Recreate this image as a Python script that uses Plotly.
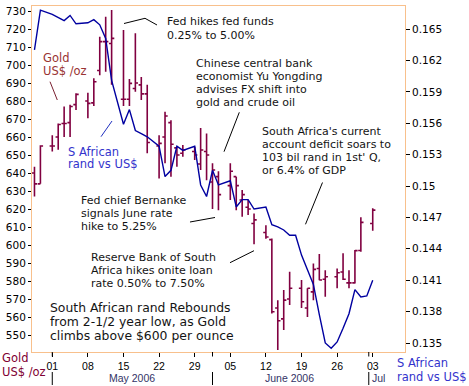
import plotly.graph_objects as go

# ---------------- data ----------------
gold_dates = ["2006-04-27", "2006-04-28", "2006-05-01", "2006-05-02", "2006-05-03", "2006-05-04",
              "2006-05-05", "2006-05-08", "2006-05-09", "2006-05-10", "2006-05-11", "2006-05-12",
              "2006-05-15", "2006-05-16", "2006-05-17", "2006-05-18", "2006-05-19", "2006-05-22",
              "2006-05-23", "2006-05-24", "2006-05-25", "2006-05-26", "2006-05-29", "2006-05-30",
              "2006-05-31", "2006-06-01", "2006-06-02", "2006-06-05", "2006-06-06", "2006-06-07",
              "2006-06-08", "2006-06-09", "2006-06-12", "2006-06-13", "2006-06-14", "2006-06-15",
              "2006-06-16", "2006-06-19", "2006-06-20", "2006-06-21", "2006-06-22", "2006-06-23",
              "2006-06-26", "2006-06-27", "2006-06-28", "2006-06-29", "2006-06-30", "2006-07-03"]
gold_open = [640, 634, 655, 660, 667.5, 668, 678, 680, 679, 697, 713, 712,
             681, 681, 687, 689, 684, 655, 660, 668, 654, 651, 652, 645,
             652, 635, 638, 633, 638, 625, 621, 612, 607, 603, 565, 559,
             570, 576, 565, 574, 587, 581, 582.4, 585, 579, 579, 597, 612]
gold_high = [643.5, 655.5, 661, 667.5, 677, 678, 684.4, 684.6, 692.6, 715.7, 726.8, 730.6,
             719.4, 692.2, 717.6, 693.3, 689, 661, 674, 669.4, 654.6, 655.6, 654.6, 665,
             662, 645.5, 641, 645.5, 638, 630.6, 625, 617.6, 611, 603.7, 569.4, 575,
             585.2, 580.6, 576, 589.8, 595, 586, 587, 595.4, 586, 597.2, 615.4, 620.4]
gold_low = [627, 634, 652, 653, 660, 660, 675, 670.4, 677.2, 694.4, 696.3, 689,
            677.2, 677.2, 685.2, 680.6, 651, 637, 645.4, 638, 643.5, 649, 647.2, 641.7,
            636, 620, 619.4, 625, 619.4, 615.7, 616.7, 600.5, 603.5, 562, 541.7, 552.8,
            566.7, 565, 560, 569.4, 580.4, 571.3, 576, 580.6, 576, 578.7, 596.3, 607.9]
gold_close = [634, 655, 655, 667, 667.5, 677, 683.7, 678.7, 690.7, 713, 713, 714.8,
              681, 689.8, 690, 684, 657, 656.5, 671.7, 656, 650, 652.8, 650, 652.8,
              650, 641.7, 628, 641, 633, 628, 620, 614, 604.5, 563, 558, 569.4,
              576, 568.5, 576, 586.5, 580.6, 582.4, 584.6, 581, 579, 596.9, 612.6, 619.4]

rand_dates = ["2006-04-27", "2006-04-28", "2006-05-01", "2006-05-02", "2006-05-03", "2006-05-04",
              "2006-05-05", "2006-05-08", "2006-05-09", "2006-05-10", "2006-05-11", "2006-05-12",
              "2006-05-15", "2006-05-16", "2006-05-17", "2006-05-18", "2006-05-19", "2006-05-22",
              "2006-05-23", "2006-05-24", "2006-05-25", "2006-05-26", "2006-05-29", "2006-05-30",
              "2006-05-31", "2006-06-01", "2006-06-02", "2006-06-05", "2006-06-06", "2006-06-07",
              "2006-06-08", "2006-06-09", "2006-06-12", "2006-06-13", "2006-06-14", "2006-06-15",
              "2006-06-16", "2006-06-18", "2006-06-19", "2006-06-20", "2006-06-21", "2006-06-22",
              "2006-06-23", "2006-06-25", "2006-06-26", "2006-06-27", "2006-06-28", "2006-06-29",
              "2006-06-30", "2006-07-02", "2006-07-03"]
rand_usd = [0.1630, 0.1668, 0.1664, 0.1661, 0.1658, 0.1663, 0.1655, 0.1656, 0.1659, 0.1654, 0.1641, 0.1601,
            0.1559, 0.1573, 0.1553, 0.1550, 0.1547, 0.1538, 0.1509, 0.1515, 0.1538, 0.1534, 0.1538, 0.1501,
            0.1490, 0.1515, 0.1501, 0.1505, 0.1480, 0.1487, 0.1487, 0.1478, 0.1480, 0.1463, 0.1461, 0.1458,
            0.1453, 0.1453, 0.1434, 0.1420, 0.1406, 0.1377, 0.1350, 0.1345, 0.1351, 0.1364, 0.1378, 0.1401,
            0.1394, 0.1395, 0.1410]

month_labels = ["May 2006", "June 2006", "Jul"]
month_label_dates = ["2006-05-16 12:00", "2006-06-16", "2006-07-04"]
month_starts = ["2006-05-01", "2006-06-01", "2006-07-02 08:00"]

# ---------------- styling / layout ----------------
W, H = 469, 386
PL, PR, PT, PB = 32, 405, 6, 352
FRAME = "#F8C08C"
GOLD_C = "#800040"
RAND_C = "#0000A0"
TXT = "#141414"
FONT = "DejaVu Sans"


def px(X):
    return (X - PL) / (PR - PL)


def py(Y):
    return (PB - Y) / (PB - PT)


fig = go.Figure()
fig.add_trace(go.Ohlc(
    x=gold_dates, open=gold_open, high=gold_high, low=gold_low, close=gold_close,
    increasing=dict(line=dict(color=GOLD_C, width=1.6)),
    decreasing=dict(line=dict(color=GOLD_C, width=1.6)),
    tickwidth=0.45, showlegend=False, hoverinfo="skip", yaxis="y"))
fig.add_trace(go.Scatter(
    x=rand_dates, y=rand_usd, mode="lines", line=dict(color=RAND_C, width=1.4),
    showlegend=False, yaxis="y2"))

annotations = []
shapes = []


def add_lines(lines, X, Y0, dy, size=11, color=TXT, family=FONT):
    for i, t in enumerate(lines):
        annotations.append(dict(text=t, x=px(X), y=py(Y0 + i * dy), xref="paper", yref="paper",
                                xanchor="left", yanchor="middle", showarrow=False,
                                font=dict(family=family, size=size, color=color)))


def add_pointer(pts, color="#000000"):
    d = "M " + " L ".join(f"{px(a):.5f},{py(b):.5f}" for a, b in pts)
    shapes.append(dict(type="path", path=d, xref="paper", yref="paper",
                       line=dict(color=color, width=1)))


add_lines(["Fed hikes fed funds", "0.25% to 5.00%"], 164.5, 21.7, 14)
add_pointer([(124, 23.5), (145, 18.3), (157, 25)])
add_lines(["Chinese central bank", "economist Yu Yongding", "advises FX shift into", "gold and crude oil"],
          194, 63.3, 13)
add_pointer([(239.3, 112.3), (224, 151.7)])
add_lines(["South Africa's current", "account deficit soars to", "103 bil rand in 1st' Q,", "or 6.4% of GDP"],
          260, 131, 13)
add_pointer([(322.5, 182.5), (305.5, 224.3)])
add_lines(["Fed chief Bernanke", "signals June rate", "hike to 5.25%"], 79, 200.7, 12.7)
add_pointer([(190, 222), (215, 217.5)])
add_lines(["Reserve Bank of South", "Africa hikes onite loan", "rate 0.50% to 7.50%"], 89, 257.3, 12.9)
add_pointer([(230, 262.7), (254, 250.7)])
add_lines(["South African rand Rebounds", "from 2-1/2 year low, as Gold", "climbs above $600 per ounce"],
          48.3, 307.7, 14, size=12.4)
add_lines(["Gold", "US$ /oz"], 41, 58.3, 12.8, size=11.5, color="#993333")
add_pointer([(50, 81.7), (57.3, 100)], color="#7a2030")
add_lines(["S African", "rand vs US$"], 66.3, 151.7, 12.5, size=11.5, color="#3333CC")
add_pointer([(101, 136.7), (112, 121)], color="#2030C0")
add_lines(["Gold", "US$ /oz"], 0, 358, 14, size=11.5, color="#800033")
add_lines(["S African", "rand vs US$"], 395, 363, 14, size=11.5, color="#3333CC")

for lbl, d in zip(month_labels, month_label_dates):
    annotations.append(dict(text=lbl, x=d, y=py(378), xref="x", yref="paper",
                            xanchor="center", yanchor="middle", showarrow=False,
                            font=dict(family="Liberation Sans", size=10.5, color="#333366")))
for d in month_starts:
    shapes.append(dict(type="line", x0=d, x1=d, y0=py(372), y1=py(385), xref="x", yref="paper",
                       line=dict(color="#000000", width=1)))
    shapes.append(dict(type="line", x0=d, x1=d, y0=py(352), y1=py(356.5), xref="x", yref="paper",
                       line=dict(color="#000000", width=1)))

fig.update_layout(
    width=W, height=H,
    margin=dict(l=PL, r=W - PR, t=PT, b=H - PB, pad=0),
    paper_bgcolor="white", plot_bgcolor="white",
    showlegend=False,
    xaxis=dict(type="date", range=["2006-04-26 14:00", "2006-07-09 10:30"],
               rangebreaks=[dict(pattern="day of week", bounds=[6, 0])],
               rangeslider=dict(visible=False),
               tick0="2006-05-01", dtick=7 * 86400000, tickformat="%d",
               ticks="outside", ticklen=4, tickcolor="#000000",
               tickfont=dict(family="Liberation Sans", size=10.5, color="#000000"),
               showgrid=False, zeroline=False, showline=True, linecolor=FRAME, linewidth=1,
               mirror=True),
    yaxis=dict(range=[540.6, 732.8], tick0=550, dtick=10, ticks="outside", ticklen=3,
               tickcolor="#000000", tickfont=dict(family=FONT, size=10.5, color="#000000"),
               showgrid=False, zeroline=False, showline=True, linecolor=FRAME, linewidth=1),
    yaxis2=dict(range=[0.13414, 0.1672], tick0=0.135, dtick=0.003, tickformat=".3~f",
                overlaying="y", side="right", ticks="outside", ticklen=4, tickcolor="#000000",
                tickfont=dict(family=FONT, size=10.5, color="#000000"),
                showgrid=False, zeroline=False, showline=True, linecolor=FRAME, linewidth=1),
    annotations=annotations, shapes=shapes,
)

fig.write_html("out.html",
               config={"displayModeBar": False},
               post_script="document.body.style.margin='0';document.body.style.padding='0';"
                           "document.body.style.overflow='hidden';")
